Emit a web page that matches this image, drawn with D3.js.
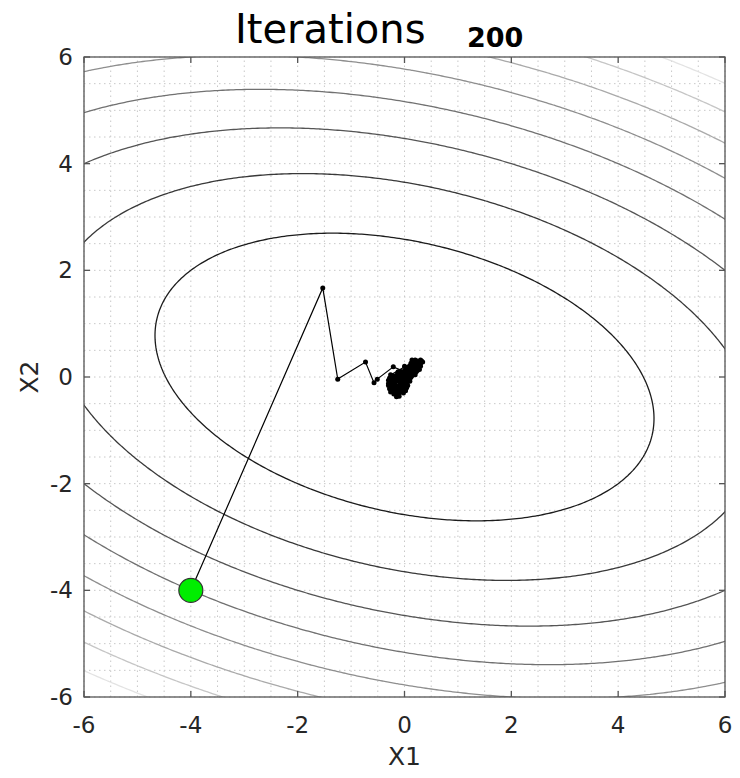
<!DOCTYPE html>
<html>
<head>
<meta charset="utf-8">
<script src="https://cdn.jsdelivr.net/npm/d3@7"></script>
<style>
  body { margin: 0; background: #fff; }
  text { font-family: "DejaVu Sans", sans-serif; }
</style>
</head>
<body>
<div class="chart"></div>
<script>
// quadratic bowl  f = a*x1^2 + b*x1*x2 + c*x2^2
const quadCoef = [1, 1, 3];
const levels = [20, 40, 60, 80, 100, 120, 140, 160];
const ticks = [-6, -4, -2, 0, 2, 4, 6];
const startPoint = [-4, -4];
const iterCount = 200;

// path of the iterates
const pathX1 = [-4, -1.53, -1.25, -0.73, -0.57, -0.51, -0.21,
  0.00, 0.25, -0.20, 0.10, -0.28, 0.15, -0.10, 0.30, -0.25, 0.05,
  0.20, -0.30, 0.12, -0.15, 0.00, -0.22, 0.22, -0.05, 0.32, -0.18,
  0.08, -0.30, 0.18, -0.08, 0.14, -0.26, 0.10, -0.12, 0.26, -0.02,
  0.04, -0.24, 0.20, -0.10, 0.30, -0.16, 0.06, -0.28, 0.16, -0.04,
  0.24, -0.20, 0.00, -0.26, 0.12, -0.14, 0.28, -0.06, 0.18, -0.30,
  0.10, -0.08, 0.22, -0.20, 0.04, -0.12, 0.34, -0.22, 0.08, -0.02,
  0.20, -0.28, 0.14, -0.16, 0.26, -0.10, 0.02, 0.16, -0.24, 0.06,
  -0.14, 0.30, -0.04, 0.12, -0.18, 0.24, 0.00];
const pathX2 = [-4, 1.67, -0.04, 0.28, -0.11, -0.04, 0.19,
  0.10, 0.28, -0.10, 0.05, -0.02, 0.20, -0.30, 0.25, -0.20, -0.05,
  0.32, -0.12, 0.12, -0.37, 0.20, 0.02, 0.10, -0.22, 0.30, -0.25,
  0.00, -0.06, 0.24, -0.12, 0.32, -0.28, -0.08, 0.08, 0.20, -0.30,
  0.14, -0.14, 0.04, -0.36, 0.32, 0.00, -0.16, -0.22, 0.16, 0.04,
  0.30, -0.32, -0.10, 0.04, 0.26, -0.18, 0.14, -0.04, 0.30, -0.16,
  0.18, -0.26, 0.22, -0.06, -0.20, 0.10, 0.28, -0.24, 0.08, -0.14,
  0.16, -0.10, 0.06, -0.30, 0.26, 0.00, -0.26, 0.28, -0.04, 0.10,
  -0.22, 0.20, -0.08, 0.20, -0.14, 0.12, 0.02];

const width = 740, height = 778;
const x = d3.scaleLinear().domain([-6, 6]).range([84, 725]);
const y = d3.scaleLinear().domain([-6, 6]).range([697, 57]);
const gray = d3.scaleLinear().domain([0, 180]).range(["#000", "#fff"]);

const svg = d3.select(".chart").append("svg")
  .attr("width", width)
  .attr("height", height);

svg.append("defs").append("clipPath")
  .attr("id", "plotClip")
  .append("rect")
  .attr("x", x(-6)).attr("y", y(6))
  .attr("width", x(6) - x(-6)).attr("height", y(-6) - y(6));

// dotted grid every 0.5
const gridVals = d3.range(-6, 6.01, 0.5);
const grid = svg.append("g")
  .attr("stroke", "#c8c8c8")
  .attr("stroke-width", 1)
  .attr("stroke-dasharray", "1.5,3.5");
grid.selectAll(".gv").data(gridVals).enter().append("line")
  .attr("x1", d => x(d)).attr("x2", d => x(d))
  .attr("y1", y(-6)).attr("y2", y(6));
grid.selectAll(".gh").data(gridVals).enter().append("line")
  .attr("y1", d => y(d)).attr("y2", d => y(d))
  .attr("x1", x(-6)).attr("x2", x(6));

// contour lines
const lo = -6.5, step = 0.05, n = 261;
const values = new Array(n * n);
for (let j = 0; j < n; j++) {
  for (let i = 0; i < n; i++) {
    const a = lo + i * step, b = lo + j * step;
    values[j * n + i] = quadCoef[0] * a * a + quadCoef[1] * a * b + quadCoef[2] * b * b;
  }
}
const contours = d3.contours().size([n, n]).thresholds(levels)(values);
const proj = d3.geoTransform({
  point: function(px, py) {
    this.stream.point(x(lo + (px - 0.5) * step), y(lo + (py - 0.5) * step));
  }
});
svg.append("g")
  .attr("clip-path", "url(#plotClip)")
  .selectAll("path")
  .data(contours)
  .enter().append("path")
  .attr("d", d3.geoPath(proj))
  .attr("fill", "none")
  .attr("stroke", d => gray(d.value))
  .attr("stroke-width", 1.3);

// frame and ticks
const frame = svg.append("g").attr("stroke", "#555").attr("stroke-width", 1.3);
frame.append("rect")
  .attr("x", x(-6)).attr("y", y(6))
  .attr("width", x(6) - x(-6)).attr("height", y(-6) - y(6))
  .attr("fill", "none");
ticks.forEach(t => {
  frame.append("line").attr("x1", x(t)).attr("x2", x(t)).attr("y1", y(-6)).attr("y2", y(-6) - 6);
  frame.append("line").attr("x1", x(t)).attr("x2", x(t)).attr("y1", y(6)).attr("y2", y(6) + 6);
  frame.append("line").attr("y1", y(t)).attr("y2", y(t)).attr("x1", x(-6)).attr("x2", x(-6) + 6);
  frame.append("line").attr("y1", y(t)).attr("y2", y(t)).attr("x1", x(6)).attr("x2", x(6) - 6);
});

svg.selectAll(".xt").data(ticks).enter().append("text")
  .attr("x", d => x(d)).attr("y", 733)
  .attr("text-anchor", "middle")
  .attr("font-size", 23)
  .attr("fill", "#262626")
  .text(d => d);
svg.selectAll(".yt").data(ticks).enter().append("text")
  .attr("x", 73).attr("y", d => y(d) + 8)
  .attr("text-anchor", "end")
  .attr("font-size", 23)
  .attr("fill", "#262626")
  .text(d => d);

svg.append("text")
  .attr("x", x(0)).attr("y", 765)
  .attr("text-anchor", "middle")
  .attr("font-size", 25)
  .attr("fill", "#262626")
  .text("X1");
svg.append("text")
  .attr("transform", "translate(38," + y(0) + ") rotate(-90)")
  .attr("text-anchor", "middle")
  .attr("font-size", 25)
  .attr("fill", "#262626")
  .text("X2");

svg.append("text")
  .attr("x", 235).attr("y", 43)
  .attr("font-size", 40)
  .attr("fill", "#000")
  .text("Iterations");
svg.append("text")
  .attr("x", 467).attr("y", 47)
  .attr("font-size", 27)
  .attr("font-weight", "bold")
  .attr("fill", "#000")
  .text(iterCount);

// iterates
const pts = pathX1.map((v, i) => [v, pathX2[i]]);
svg.append("path")
  .datum(pts)
  .attr("d", d3.line().x(d => x(d[0])).y(d => y(d[1])))
  .attr("fill", "none")
  .attr("stroke", "#000")
  .attr("stroke-width", 1.2);
svg.selectAll(".it").data(pts.slice(1)).enter().append("circle")
  .attr("cx", d => x(d[0])).attr("cy", d => y(d[1]))
  .attr("r", 2.5)
  .attr("fill", "#000");

svg.append("circle")
  .attr("cx", x(startPoint[0])).attr("cy", y(startPoint[1]))
  .attr("r", 12)
  .attr("fill", "#00ee00")
  .attr("stroke", "#333")
  .attr("stroke-width", 1.2);
</script>
</body>
</html>
